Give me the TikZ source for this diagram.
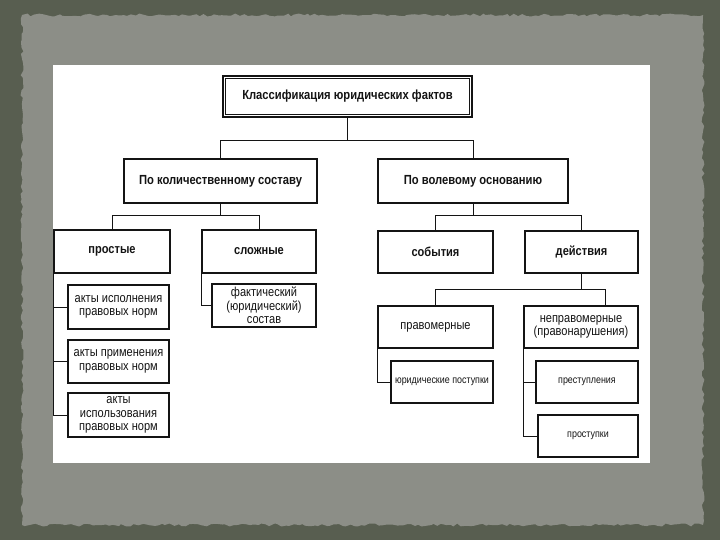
\documentclass[tikz,border=0pt]{standalone}
\usepackage{fontspec}
\setmainfont[FakeStretch=0.85]{Liberation Sans}
\usetikzlibrary{decorations.pathmorphing}
\definecolor{outerbg}{RGB}{88,94,80}
\definecolor{panel}{RGB}{140,142,135}
\definecolor{ink}{RGB}{20,20,20}
\tikzset{
  box/.style={draw=ink, line width=1.1pt, fill=white, inner sep=1pt, align=center, text=ink},
  bigtxt/.style={font=\fontsize{13.2}{15}\selectfont\bfseries},
  midtxt/.style={font=\fontsize{13}{15}\selectfont\bfseries},
  subtxt/.style={font=\fontsize{13}{13.5}\selectfont},
  tinytxt/.style={font=\fontsize{10.5}{12}\selectfont},
  conn/.style={draw=ink, line width=0.9pt}
}
\begin{document}
\begin{tikzpicture}[x=1pt,y=-1pt]
\useasboundingbox (0,0) rectangle (720,540);
\fill[outerbg] (0,0) rectangle (720,540);
\fill[panel, decorate, decoration={random steps, segment length=4pt, amplitude=1.5pt}] (22,15) rectangle (703,525);
\fill[white] (53,65) rectangle (650,463);

% title (double border)
\node[box, line width=2.6pt, minimum width=249, minimum height=41, bigtxt] (title) at (347.5,96.5) {Классификация юридических фактов};
\draw[ink, line width=0.8pt] ([shift={(3.5,3.5)}]title.north west) rectangle ([shift={(-3.5,-3.5)}]title.south east);

% level 2
\node[box, minimum width=193, minimum height=44, bigtxt] (qty) at (220.5,181) {По количественному составу};
\node[box, minimum width=190, minimum height=44, bigtxt] (vol) at (473,181) {По волевому основанию};

% level 3
\node[box, minimum width=116, minimum height=43, midtxt] (simple) at (112,251.5) {простые};
\node[box, minimum width=114, minimum height=43, midtxt] (complex) at (259,251.5) {сложные};
\node[box, minimum width=115, minimum height=42, midtxt] (events) at (435.5,252) {события};
\node[box, minimum width=113, minimum height=42, midtxt] (acts) at (581.5,252) {действия};

% under simple
\node[box, minimum width=101, minimum height=44, subtxt] (s1) at (118.5,307) {акты исполнения\\правовых норм};
\node[box, minimum width=101, minimum height=43, subtxt] (s2) at (118.5,361.5) {акты применения\\правовых норм};
\node[box, minimum width=101, minimum height=44, subtxt] (s3) at (118.5,415) {акты\\использования\\правовых норм};
% under complex
\node[box, minimum width=104, minimum height=43, subtxt] (c1) at (264,305.5) {фактический\\(юридический)\\состав};

% level 4
\node[box, minimum width=115, minimum height=42, subtxt] (lawful) at (435.5,327) {правомерные};
\node[box, minimum width=114, minimum height=42, subtxt] (unlawful) at (581,327) {неправомерные\\(правонарушения)};

\node[box, minimum width=102, minimum height=42, tinytxt] (jur) at (442,382) {юридические поступки};
\node[box, minimum width=102, minimum height=42, tinytxt] (crime) at (587,382) {преступления};
\node[box, minimum width=100, minimum height=42, tinytxt] (misd) at (588,436) {проступки};

% connectors
\draw[conn] (title.south) -- ++(0,22) -| (qty.north);
\draw[conn] (title.south) ++(0,22) -| (vol.north);
\draw[conn] (qty.south) -- ++(0,12) -| (simple.north);
\draw[conn] (qty.south) ++(0,12) -| (complex.north);
\draw[conn] (vol.south) -- ++(0,12) -| (events.north);
\draw[conn] (vol.south) ++(0,12) -| (acts.north);
\draw[conn] (acts.south) -- ++(0,16) -| (lawful.north);
\draw[conn] (acts.south) ++(0,16) -| ([xshift=24]unlawful.north);

\draw[conn] (simple.south west) |- (s1.west);
\draw[conn] (simple.south west) |- (s2.west);
\draw[conn] (simple.south west) |- (s3.west);
\draw[conn] (complex.south west) |- (c1.west);
\draw[conn] (lawful.south west) |- (jur.west);
\draw[conn] (unlawful.south west) |- (crime.west);
\draw[conn] (unlawful.south west) |- (misd.west);
\end{tikzpicture}
\end{document}
